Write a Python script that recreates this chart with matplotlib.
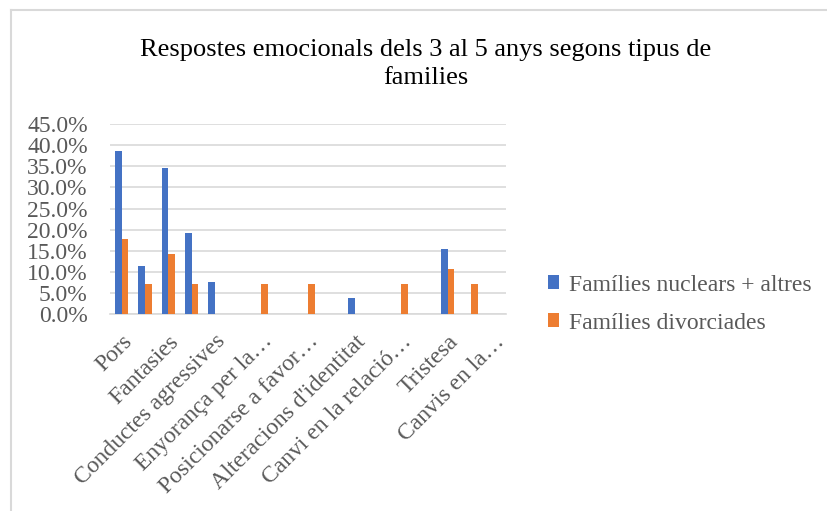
import matplotlib
matplotlib.use("Agg")
import matplotlib.pyplot as plt
from matplotlib.lines import Line2D
from matplotlib.ticker import FuncFormatter, MultipleLocator
import numpy as np

title = "Respostes emocionals dels 3 al 5 anys segons tipus de\nfamilies"
categories = ["Pors", "", "Fantasies", "", "Conductes agressives", "",
              "Enyorança per la…", "", "Posicionarse a favor…", "",
              "Alteracions d'identitat", "", "Canvi en la relació…", "",
              "Tristesa", "", "Canvis en la…"]
series_names = ["Famílies nuclears + altres", "Famílies divorciades"]
nuclears = [38.5, 11.5, 34.6, 19.2, 7.7, 0, 0, 0, 0, 0, 3.8, 0, 0, 0, 15.4, 0, 0]
divorciades = [17.9, 7.1, 14.3, 7.1, 0, 0, 7.1, 0, 7.1, 0, 0, 0, 7.1, 0, 10.7, 7.1, 0]
colors = ["#4472C4", "#ED7D31"]

plt.rcParams['font.family'] = ['Liberation Serif', 'DejaVu Serif']
gray = "#595959"
fs = 17

fig = plt.figure(figsize=(8.28, 5.11), dpi=100)
ax = fig.add_axes([110/828, 1-314.3/511, (506-110)/828, (314.3-124)/511])

x = np.arange(len(categories))
w = 0.286
ax.bar(x - w/2, nuclears, w, color=colors[0], label=series_names[0], zorder=3)
ax.bar(x + w/2, divorciades, w, color=colors[1], label=series_names[1], zorder=3)

ax.set_xlim(-0.5, len(categories) - 0.5)
ax.set_ylim(0, 45)
ax.yaxis.set_major_locator(MultipleLocator(5))
ax.yaxis.set_major_formatter(FuncFormatter(lambda v, p: f"{v:.1f}%"))
ax.grid(axis='y', color="#D9D9D9", linewidth=1.2, zorder=0)
for s in ['top', 'right', 'left']:
    ax.spines[s].set_visible(False)
ax.spines['bottom'].set_color("#D9D9D9")
ax.spines['bottom'].set_linewidth(1.2)
ax.tick_params(axis='both', length=0, colors=gray, labelsize=fs)
ax.tick_params(axis='y', pad=16)

ticks = [i for i, c in enumerate(categories) if c]
ax.set_xticks(ticks)
ax.set_xticklabels([categories[i] for i in ticks], rotation=45, ha='right',
                   rotation_mode='anchor', color=gray, fontsize=fs)
ax.tick_params(axis='x', pad=12)

fig.text(426/828, 1-84/511, title, ha='center', va='baseline', fontsize=19,
         color='black', linespacing=1.35, multialignment='center')

leg = fig.legend(loc='upper left', bbox_to_anchor=(531/828, 1-258/511),
                 frameon=False, fontsize=fs, handlelength=0.5, handleheight=0.5,
                 handletextpad=0.4, labelspacing=0.72, labelcolor=gray,
                 borderpad=0.2)

# chart border (left and top edges visible)
fig.add_artist(Line2D([11/828, 11/828], [0, 1-10/511], color="#D9D9D9", linewidth=1.5))
fig.add_artist(Line2D([11/828, 1], [1-10/511, 1-10/511], color="#D9D9D9", linewidth=1.5))

fig.savefig("out.png", dpi=100)
